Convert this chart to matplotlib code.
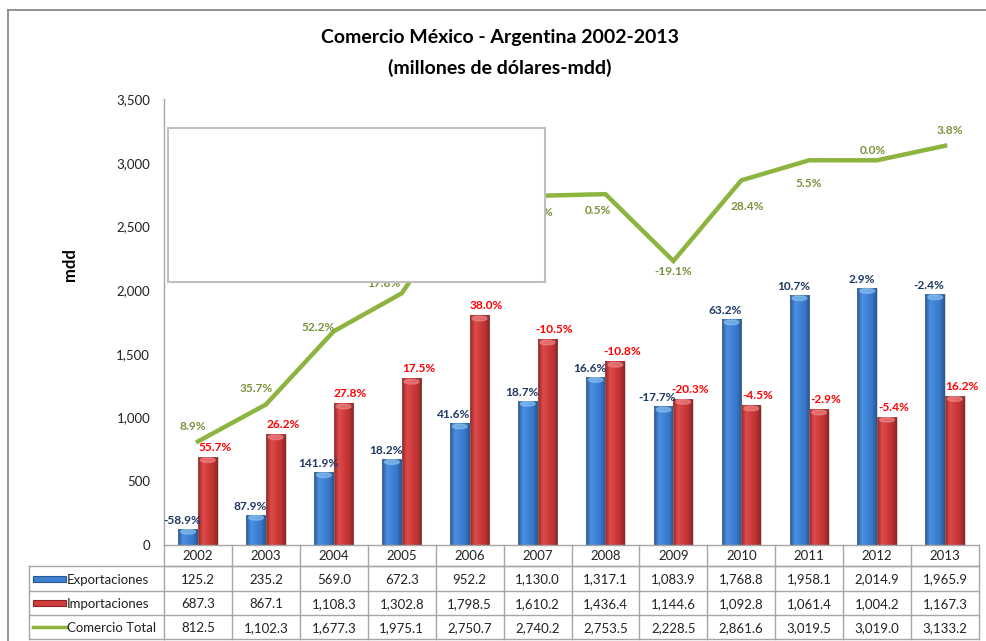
import numpy as np
import matplotlib.pyplot as plt
import matplotlib.transforms as mtransforms
from matplotlib.colors import LinearSegmentedColormap
from matplotlib.patches import Rectangle, Ellipse
from matplotlib.lines import Line2D

plt.rcParams['font.family'] = ['Lato', 'DejaVu Sans']

# datos (millones de dolares)
years = ['2002', '2003', '2004', '2005', '2006', '2007',
         '2008', '2009', '2010', '2011', '2012', '2013']
exportaciones = [125.2, 235.2, 569.0, 672.3, 952.2, 1130.0,
                 1317.1, 1083.9, 1768.8, 1958.1, 2014.9, 1965.9]
importaciones = [687.3, 867.1, 1108.3, 1302.8, 1798.5, 1610.2,
                 1436.4, 1144.6, 1092.8, 1061.4, 1004.2, 1167.3]
comercio_total = [812.5, 1102.3, 1677.3, 1975.1, 2750.7, 2740.2,
                  2753.5, 2228.5, 2861.6, 3019.5, 3019.0, 3133.2]

# variacion anual (%)
var_exp = [-58.9, 87.9, 141.9, 18.2, 41.6, 18.7, 16.6, -17.7, 63.2, 10.7, 2.9, -2.4]
var_imp = [55.7, 26.2, 27.8, 17.5, 38.0, -10.5, -10.8, -20.3, -4.5, -2.9, -5.4, 16.2]
var_tot = [8.9, 35.7, 52.2, 17.8, 39.3, -0.4, 0.5, -19.1, 28.4, 5.5, 0.0, 3.8]

series_names = ['Exportaciones', 'Importaciones', 'Comercio Total']

# desplazamiento de las etiquetas de la linea (pixeles)
tot_offsets = [(-5, 15), (-10, 16), (-16, 4), (-18, 10), (-16, 10), (0, -17),
               (-8, -16), (0, -10), (6, -26), (0, -23), (-4, 10), (5, 15)]

W, H = 986, 641
fig = plt.figure(figsize=(W / 100, H / 100), dpi=100)

# lienzo en pixeles para tabla y marcos
canvas = fig.add_axes([0, 0, 1, 1])
canvas.set_xlim(0, W)
canvas.set_ylim(H, 0)
canvas.axis('off')

left, right, top, bottom = 164, 979, 99, 545
ax = fig.add_axes([left / W, 1 - bottom / H, (right - left) / W, (bottom - top) / H])
ax.patch.set_alpha(0)

x = np.arange(len(years))
bw = 0.29

blue_cmap = LinearSegmentedColormap.from_list(
    'b', ['#2A5894', '#4C8FE0', '#4084D6', '#3878C8', '#2A5692'])
red_cmap = LinearSegmentedColormap.from_list(
    'r', ['#962626', '#DE4A4A', '#D03D3D', '#BE3333', '#8E2424'])
grad = np.linspace(0, 1, 64).reshape(1, -1)


def draw_bar(xc, h, cmap, cap):
    x0 = xc - bw / 2
    ax.imshow(grad, cmap=cmap, extent=[x0, x0 + bw, 0, h], aspect='auto',
              interpolation='bilinear', zorder=2)
    ax.add_patch(Rectangle((x0, 0), bw, h, fill=False, edgecolor='#808080',
                           linewidth=0.4, alpha=0.6, zorder=3))
    ax.add_patch(Ellipse((xc, h - 22), bw * 0.75, 36, color=cap, alpha=0.6, zorder=3))


for i in range(len(years)):
    draw_bar(x[i] - bw / 2, exportaciones[i], blue_cmap, '#8CC4F2')
    draw_bar(x[i] + bw / 2, importaciones[i], red_cmap, '#F08A8A')

ax.plot(x, comercio_total, color='#8DB43E', linewidth=3.2, zorder=4,
        solid_joinstyle='miter')

ax.set_xlim(-0.5, len(years) - 0.5)
ax.set_ylim(0, 3500)
ax.set_yticks(np.arange(0, 3501, 500))
ax.set_yticklabels([f"{v:,.0f}" for v in np.arange(0, 3501, 500)])
ax.set_xticks([])
ax.tick_params(axis='y', length=0, pad=10, labelsize=9.5, labelcolor='#222222')
for s in ['top', 'right']:
    ax.spines[s].set_visible(False)
for s in ['left', 'bottom']:
    ax.spines[s].set_color('#A6A6A6')
    ax.spines[s].set_linewidth(1.0)

# etiquetas de variacion
for i in range(len(years)):
    ax.annotate(f"{var_exp[i]:.1f}%", (x[i] - bw / 2, exportaciones[i]),
                xytext=(-6, 9), textcoords='offset pixels', ha='center', va='center',
                fontsize=8.6, fontweight='bold', color='#1F3864', zorder=6)
    ax.annotate(f"{var_imp[i]:.1f}%", (x[i] + bw / 2, importaciones[i]),
                xytext=(7, 10), textcoords='offset pixels', ha='center', va='center',
                fontsize=8.6, fontweight='bold', color='#FF0000', zorder=6)
    ax.annotate(f"{var_tot[i]:.1f}%", (x[i], comercio_total[i]),
                xytext=tot_offsets[i], textcoords='offset pixels', ha='center', va='center',
                fontsize=8.6, fontweight='bold', color='#77933C', zorder=6)

# titulo y eje
fig.text(500 / W, 1 - 38 / H, 'Comercio México - Argentina 2002-2013',
         ha='center', va='center', fontsize=14, fontweight='bold')
fig.text(500 / W, 1 - 68 / H, '(millones de dólares-mdd)',
         ha='center', va='center', fontsize=14, fontweight='bold')
fig.text(70 / W, 1 - 265 / H, 'mdd', rotation=90, ha='center', va='center',
         fontsize=12, fontweight='bold')

# tabla de datos
blend = mtransforms.blended_transform_factory(ax.transData, canvas.transData)
grid_c = '#A6A6A6'
rows_y = [566, 591, 615, 639]
for k in range(len(years) + 1):
    canvas.add_line(Line2D([k - 0.5, k - 0.5], [bottom, rows_y[-1]], transform=blend,
                           color=grid_c, linewidth=1.0))
canvas.add_line(Line2D([-0.5, len(years) - 0.5], [rows_y[0], rows_y[0]], transform=blend,
                       color=grid_c, linewidth=1.0))
for yy in rows_y:
    canvas.add_line(Line2D([29, left], [yy, yy], color=grid_c, linewidth=1.0))
    canvas.add_line(Line2D([-0.5, len(years) - 0.5], [yy, yy], transform=blend,
                           color=grid_c, linewidth=1.0))
canvas.add_line(Line2D([29, 29], [rows_y[0], rows_y[-1]], color=grid_c, linewidth=1.0))

for i, yr in enumerate(years):
    canvas.text(x[i], (bottom + rows_y[0]) / 2 + 1, yr, transform=blend,
                ha='center', va='center', fontsize=9.5, color='#222222')
table_vals = [exportaciones, importaciones, comercio_total]
for r, vals in enumerate(table_vals):
    yc = (rows_y[r] + rows_y[r + 1]) / 2 + 1
    for i, v in enumerate(vals):
        canvas.text(x[i], yc, f"{v:,.1f}", transform=blend,
                    ha='center', va='center', fontsize=9.5, color='#222222')
    canvas.text(67, yc, series_names[r], ha='left', va='center',
                fontsize=9.5, color='#222222')

# claves de la leyenda
ky = [(rows_y[r] + rows_y[r + 1]) / 2 for r in range(3)]
canvas.add_patch(Rectangle((33, ky[0] - 3), 33, 6, facecolor='#3F80D2',
                           edgecolor='#2A5894', linewidth=0.8))
canvas.add_patch(Rectangle((33, ky[1] - 3), 33, 6, facecolor='#D03D3D',
                           edgecolor='#8E2424', linewidth=0.8))
canvas.add_line(Line2D([33, 66], [ky[2], ky[2]], color='#8DB43E', linewidth=2.5))

# marco exterior
canvas.add_line(Line2D([8, 8], [10, H], color='#808080', linewidth=1.2))
canvas.add_line(Line2D([8, W], [10, 10], color='#808080', linewidth=1.2))

# recuadro blanco superpuesto
fig.add_artist(Rectangle((168, 128), 377, 154, transform=canvas.transData,
                         facecolor='white', edgecolor='#BFBFBF', linewidth=1.5, zorder=10))

fig.savefig('out.png', dpi=100)
plt.close(fig)
